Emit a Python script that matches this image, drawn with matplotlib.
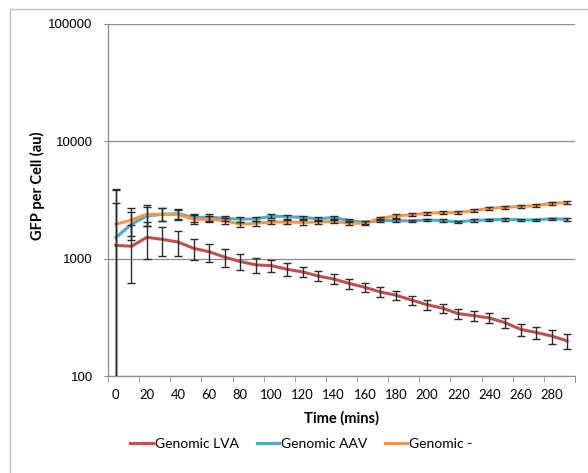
import numpy as np
import matplotlib.pyplot as plt
from matplotlib.patches import Rectangle
from matplotlib.ticker import FixedLocator, NullFormatter

# time points (mins)
time = list(range(0, 300, 10))

# GFP per cell
lva = [1300, 1275, 1520, 1460, 1385, 1225, 1145, 1030, 945, 885,
       872, 813, 770, 712, 670, 615, 570, 520, 488, 444,
       405, 378, 340, 327, 312, 285, 250, 235, 219, 199]
aav = [1510, 1965, 2312, 2390, 2420, 2245, 2254, 2210, 2168, 2185,
       2300, 2280, 2250, 2185, 2245, 2110, 2035, 2110, 2110, 2095,
       2138, 2110, 2055, 2123, 2138, 2168, 2138, 2138, 2185, 2168]
neg = [1965, 2138, 2390, 2390, 2370, 2164, 2168, 2109, 1965, 2005,
       2055, 2055, 2035, 2055, 2070, 2005, 2005, 2210, 2312, 2370,
       2437, 2475, 2475, 2565, 2690, 2742, 2790, 2830, 2965, 3000]

# error bars (+/-)
lva_err = [2550, 660, 530, 410, 330, 245, 200, 175, 150, 130,
           105, 100, 75, 70, 65, 60, 55, 50, 45, 40,
           38, 35, 35, 30, 30, 28, 30, 27, 30, 30]
aav_err = [1490, 535, 430, 310, 230, 180, 150, 120, 110, 100,
           90, 90, 80, 80, 75, 70, 70, 70, 65, 60,
           60, 60, 55, 55, 55, 55, 55, 55, 55, 55]
neg_err = [1990, 580, 480, 310, 230, 180, 130, 120, 100, 95,
           85, 85, 80, 80, 75, 70, 70, 75, 80, 80,
           80, 80, 75, 80, 80, 80, 80, 80, 85, 85]

labels = ['Genomic LVA', 'Genomic AAV', 'Genomic -']
colors = ['#C0504D', '#4BACC6', '#F79646']

plt.rcParams['font.family'] = ['Lato', 'DejaVu Sans']

fig = plt.figure(figsize=(5.88, 4.73), dpi=100)
# light chart border
fig.patches.append(Rectangle((10 / 588, -0.05), 1.2, 1 - 9.5 / 473 + 0.05,
                             transform=fig.transFigure, fill=False,
                             edgecolor='#BFBFBF', lw=1))

ax = fig.add_axes([108 / 588, 1 - 376 / 473, (575 - 108) / 588, (376 - 24) / 473])
ax.set_yscale('log')
ax.set_ylim(100, 100000)
ax.set_xlim(-5, 295)

lines = []
for y, e, c, lab in zip([lva, aav, neg], [lva_err, aav_err, neg_err], colors, labels):
    y = np.array(y, dtype=float)
    e = np.array(e, dtype=float)
    lo = np.minimum(e, y * 0.99)
    ln, = ax.plot(time, y, color=c, lw=2.2, label=lab, zorder=3)
    lines.append(ln)
    ax.errorbar(time, y, yerr=[lo, e], fmt='none', ecolor='#2b2b2b',
                elinewidth=1, capsize=3, capthick=1, zorder=4)

ax.yaxis.grid(True, which='major', color='#8C8C8C', lw=0.9)
ax.set_axisbelow(True)
for s in ['top', 'right']:
    ax.spines[s].set_visible(False)
for s in ['left', 'bottom']:
    ax.spines[s].set_color('#8C8C8C')
    ax.spines[s].set_linewidth(0.9)

ax.set_yticks([100, 1000, 10000, 100000])
ax.set_yticklabels(['100', '1000', '10000', '100000'], family='Liberation Sans', fontsize=9.5)
ax.yaxis.set_minor_locator(FixedLocator([]))
ax.tick_params(axis='y', which='major', length=3, color='#8C8C8C', pad=8)

ax.set_xticks(list(range(0, 290, 20)))
ax.set_xticklabels([str(t) for t in range(0, 290, 20)], fontsize=9.4)
ax.xaxis.set_minor_locator(FixedLocator(list(range(-5, 300, 20)) + [295]))
ax.xaxis.set_minor_formatter(NullFormatter())
ax.tick_params(axis='x', which='major', length=0, pad=9)
ax.tick_params(axis='x', which='minor', length=4, color='#8C8C8C')

fig.text(37 / 588, 1 - 186 / 473, 'GFP per Cell (au)', rotation=90,
         ha='center', va='center', fontsize=10.5, fontweight='bold')
fig.text(341.5 / 588, 1 - 418 / 473, 'Time (mins)', ha='center', va='center',
         fontsize=10.5, fontweight='bold')

fig.legend(handles=lines, loc='center', bbox_to_anchor=(301.5 / 588, 1 - 444 / 473),
           ncol=3, frameon=False, fontsize=10, handlelength=1.6,
           handletextpad=0.15, columnspacing=1.3, borderaxespad=0)

fig.savefig('out.png', dpi=100)
